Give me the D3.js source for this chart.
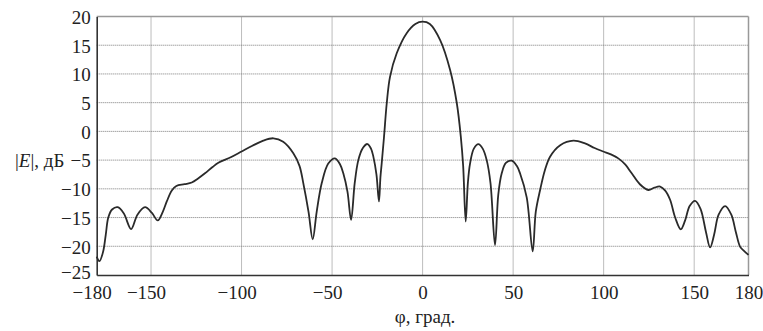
<!DOCTYPE html>
<html><head><meta charset="utf-8">
<script src="https://cdn.jsdelivr.net/npm/d3@7"></script>
<style>
html,body{margin:0;padding:0;background:#fff;}
svg{display:block;}
</style></head>
<body>
<svg id="chart" width="763" height="331"></svg>
<script>
// angle, degrees
const phi = [-180,-178.5,-176.5,-175,-173.6,-171.5,-168.4,-165,-161,-157.5,-153.3,-149.5,-146.3,-143.5,-141.3,-138.5,-136,-131.5,-127.5,-124,-120.2,-116,-112.8,-106,-100,-94,-88,-82.4,-77,-71.4,-68,-65.9,-63,-60.7,-58.5,-55.7,-52.1,-48.4,-45.5,-43.8,-41.5,-39.5,-37.5,-35.5,-33,-30.5,-28.5,-27.2,-25.5,-24.1,-23.3,-22.6,-21.3,-19.8,-18,-14.3,-8.8,-4,0,4,9.7,15.2,18.9,21.1,22.4,23.8,25,26.2,28.3,30.8,33.2,35.4,37.5,40,41.8,43.7,46,49.2,52,53.8,57.5,60.8,62.5,64.9,67.5,70.4,76,83.3,89.7,95,99.8,104,108.1,112,115.5,120,124.7,128,131.2,134,136.7,139.5,142.6,145,147.5,150.5,153.5,156.5,158.8,161,163.5,167.1,170.5,173,175.4,177.5,180];
// |E|, dB
const eDb = [-21.8,-22.6,-21,-18,-15,-13.6,-13.2,-14.3,-17,-14.5,-13.2,-14.2,-15.5,-14,-12.2,-10.3,-9.5,-9.2,-8.9,-8.2,-7.3,-6.2,-5.45,-4.5,-3.5,-2.5,-1.6,-1.2,-1.8,-3.8,-6,-9,-14,-18.8,-14,-9,-5.6,-4.7,-5.8,-7.3,-10.5,-15.4,-9,-5,-2.9,-2.2,-3,-4.4,-7.5,-12.2,-8,-5.6,-0.9,4.9,9.5,13.6,17.1,18.7,19.1,18.7,15.9,10.7,4.9,-0.9,-6,-15.7,-9,-5.6,-3,-2.2,-3,-5,-9,-19.8,-11,-7.3,-5.5,-5.1,-6,-7.3,-11.5,-20.9,-14,-10.2,-6.8,-4.4,-2.4,-1.6,-2.1,-2.9,-3.5,-4,-4.7,-5.8,-7.3,-9.2,-10.2,-9.8,-9.6,-10.3,-11.9,-15,-17.05,-15.5,-13,-12.1,-13.5,-17.5,-20.2,-18,-14.5,-13,-14.5,-17.5,-20.1,-20.8,-21.5];
const xTicks = [-180,-150,-100,-50,0,50,100,150,180];
const xGrid = [-150,-100,-50,0,50,100,150];
const yTicks = [20,15,10,5,0,-5,-10,-15,-20,-25];
const xTitle = "φ, град.";

const FONT = "Liberation Serif";
const svg = d3.select("#chart");
const L = 96.7, R = 748.5, T = 16.5, B = 275;
const x = d3.scaleLinear().domain([-180,180]).range([L,R]);
const y = d3.scaleLinear().domain([-25,20]).range([B,T]);

// grid
const g = svg.append("g");
g.selectAll("line.gx").data(xGrid).enter().append("line")
  .attr("x1",d=>x(d)).attr("x2",d=>x(d)).attr("y1",T).attr("y2",B)
  .attr("stroke","#7a7a7a").attr("stroke-width",1).attr("stroke-dasharray","1,1");
g.selectAll("line.gy").data(yTicks.filter(d=>d>-25&&d<20)).enter().append("line")
  .attr("x1",L).attr("x2",R).attr("y1",d=>y(d)).attr("y2",d=>y(d))
  .attr("stroke","#7a7a7a").attr("stroke-width",1).attr("stroke-dasharray","1,1");

// frame
svg.append("line").attr("x1",L).attr("x2",R).attr("y1",T).attr("y2",T).attr("stroke","#999").attr("stroke-width",1.5);
svg.append("line").attr("x1",R).attr("x2",R).attr("y1",T).attr("y2",B).attr("stroke","#999").attr("stroke-width",1.5);

// axes via d3
const fmt = d => (d<0 ? "\u2212"+Math.abs(d) : ""+d);
const yAxis = d3.axisLeft(y).tickValues(yTicks).tickSize(0).tickPadding(6).tickFormat(fmt);
const ya = svg.append("g").attr("transform",`translate(${L},0)`).call(yAxis);
ya.attr("font-family",FONT).attr("font-size",19);
ya.select(".domain").attr("stroke","#333").attr("stroke-width",1.6);
ya.selectAll("text").attr("fill","#222").attr("dy", d => d===-25 ? "0.2em" : "0.36em");

const xAxis = d3.axisBottom(x).tickValues(xTicks).tickSize(0).tickPadding(11).tickFormat(fmt);
const xa = svg.append("g").attr("transform",`translate(0,${B})`).call(xAxis);
xa.attr("font-family",FONT).attr("font-size",19);
xa.select(".domain").attr("stroke","#333").attr("stroke-width",1.6);
xa.selectAll("text").attr("fill","#222").attr("dx", d => d<0 ? -5 : 0);

// line
const line = d3.line().x((d,i)=>x(phi[i])).y(d=>y(d)).curve(d3.curveCatmullRom.alpha(0.5));
svg.append("path").datum(eDb).attr("d",line).attr("fill","none")
  .attr("stroke","#2a2a2a").attr("stroke-width",1.8).attr("stroke-linejoin","round");

// titles
const yt = svg.append("text").attr("x",15).attr("y",167).attr("font-family",FONT).attr("font-size",19).attr("fill","#222");
yt.append("tspan").text("|");
yt.append("tspan").attr("font-style","italic").text("E");
yt.append("tspan").text("|, дБ");
svg.append("text").attr("x",425).attr("y",323).attr("text-anchor","middle")
  .attr("font-family",FONT).attr("font-size",19).attr("fill","#222").text(xTitle);
</script>
</body></html>
